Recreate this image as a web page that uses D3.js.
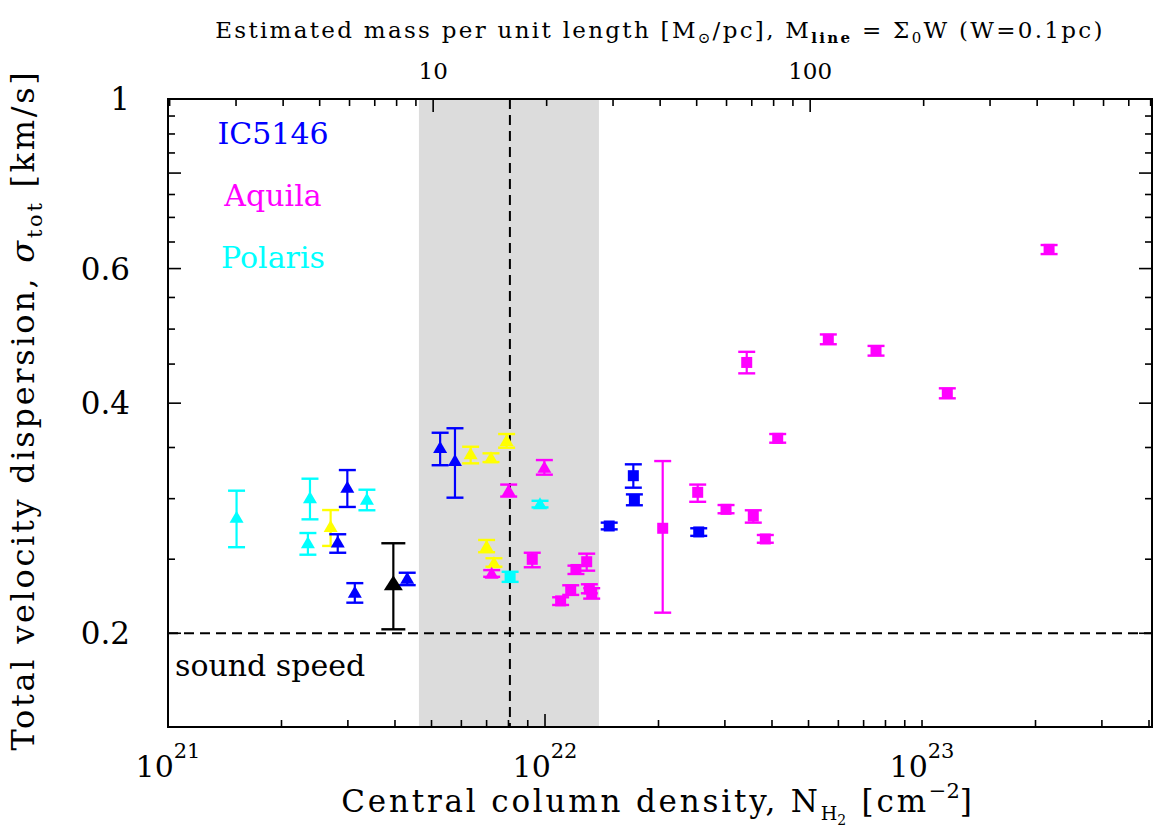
<!DOCTYPE html>
<html>
<head>
<meta charset="utf-8">
<script src="https://cdn.jsdelivr.net/npm/d3@7"></script>
<style>
  body { margin: 0; background: #fff; }
  svg text { font-family: "DejaVu Serif", serif; fill: #000; }
</style>
</head>
<body>
<div id="chart"></div>
<script>
// [column density N_H2 (cm^-2), sigma_tot, lower error, upper error] (km/s)
const ic5146Triangles = [
    [2.82e21, 0.2636, 0.2549, 0.2695],
    [2.99e21, 0.3110, 0.2926, 0.3270],
    [3.13e21, 0.2266, 0.2193, 0.2326],
    [4.31e21, 0.2364, 0.2312, 0.2400],
    [5.27e21, 0.3505, 0.3318, 0.3659],
    [5.77e21, 0.3370, 0.3009, 0.3709]
];
const ic5146Squares = [
    [1.48e22, 0.2763, 0.2735, 0.2791],
    [1.715e22, 0.3215, 0.3101, 0.3327],
    [1.726e22, 0.2990, 0.2941, 0.3039],
    [2.557e22, 0.2714, 0.2682, 0.2744]
];
const aquilaTriangles = [
    [9.96e21, 0.3304, 0.3225, 0.3370],
    [8.01e21, 0.3080, 0.3019, 0.3130],
    [7.22e21, 0.2400, 0.2371, 0.2419]
];
const aquilaSquares = [
    [9.25e21, 0.2499, 0.2440, 0.2549],
    [1.208e22, 0.2424, 0.2391, 0.2452],
    [1.290e22, 0.2481, 0.2415, 0.2542],
    [1.100e22, 0.2205, 0.2178, 0.2229],
    [1.170e22, 0.2279, 0.2245, 0.2311],
    [1.311e22, 0.2286, 0.2256, 0.2318],
    [1.330e22, 0.2256, 0.2220, 0.2291],
    [2.052e22, 0.2744, 0.2128, 0.3360],
    [2.541e22, 0.3058, 0.2972, 0.3130],
    [3.021e22, 0.2905, 0.2871, 0.2943],
    [3.568e22, 0.2847, 0.2791, 0.2897],
    [3.840e22, 0.2657, 0.2627, 0.2689],
    [4.142e22, 0.3598, 0.3551, 0.3645],
    [3.428e22, 0.4522, 0.4376, 0.4669],
    [5.642e22, 0.4849, 0.4777, 0.4920],
    [7.551e22, 0.4686, 0.4616, 0.4753],
    [1.167e23, 0.4121, 0.4059, 0.4183],
    [2.173e23, 0.6358, 0.6268, 0.6441]
];
const polarisTriangles = [
    [1.52e21, 0.2842, 0.2592, 0.3073],
    [2.38e21, 0.3012, 0.2819, 0.3186],
    [2.35e21, 0.2631, 0.2534, 0.2705],
    [3.37e21, 0.2999, 0.2897, 0.3082],
    [9.70e21, 0.2958, 0.2922, 0.2981]
];
const polarisSquares = [
    [8.08e21, 0.2371, 0.2335, 0.2407]
];
const yellowTriangles = [
    [2.70e21, 0.2763, 0.2602, 0.2899],
    [6.35e21, 0.3439, 0.3337, 0.3508],
    [7.19e21, 0.3398, 0.3350, 0.3439],
    [7.91e21, 0.3580, 0.3498, 0.3645],
    [7.00e21, 0.2604, 0.2553, 0.2649],
    [7.32e21, 0.2477, 0.2444, 0.2507]
];
const blackTriangles = [
    [3.96e21, 0.2328, 0.2024, 0.2623]
];

const legendNames = ["IC5146", "Aquila", "Polaris"];
const legendColors = ["#0000ff", "#ff00ff", "#00ffff"];

const soundSpeed = 0.2;
const criticalN = 8.07e21;           // 2 cs^2 / G
const criticalBand = [4.63e21, 1.39e22];
const massPerN = 1.98e-21;           // M_line [Msun/pc] per N_H2 (W = 0.1 pc)

const yMajor = [0.2, 0.4, 0.6, 0.8, 1.0];
const yLabels = [0.2, 0.4, 0.6, 1.0];
const xMajor = [1e21, 1e22, 1e23];
const xLabelExp = ["21", "22", "23"];
const topMajor = [10, 100];

const W = 1153, H = 828;
const margin = {top: 99, right: 1, bottom: 101, left: 168};
const width = W - margin.left - margin.right;
const height = H - margin.top - margin.bottom;

const svg = d3.select("#chart").append("svg")
    .attr("width", W).attr("height", H);

const g = svg.append("g")
    .attr("transform", "translate(" + margin.left + "," + margin.top + ")");

const x = d3.scaleLog().domain([1e21, 4.074e23]).range([0, width]);
const y = d3.scaleLog().domain([0.1508, 1]).range([height, 0]);
const xTop = d3.scaleLog()
    .domain([1e21 * massPerN, 4.074e23 * massPerN]).range([0, width]);

// grey band + critical line
g.append("rect")
    .attr("x", x(criticalBand[0]))
    .attr("width", x(criticalBand[1]) - x(criticalBand[0]))
    .attr("y", 0).attr("height", height)
    .attr("fill", "#dcdcdc");

g.append("line")
    .attr("x1", x(criticalN)).attr("x2", x(criticalN))
    .attr("y1", 0).attr("y2", height)
    .attr("stroke", "#000").attr("stroke-width", 2)
    .attr("stroke-dasharray", "10,6");

g.append("line")
    .attr("x1", 0).attr("x2", width)
    .attr("y1", y(soundSpeed)).attr("y2", y(soundSpeed))
    .attr("stroke", "#000").attr("stroke-width", 2)
    .attr("stroke-dasharray", "10,6");

g.append("text")
    .attr("x", 7).attr("y", y(soundSpeed) + 43)
    .style("font-size", "30px")
    .text("sound speed");

// data points
function drawGroup(data, color, shape, w, h, capW) {
    let grp = g.append("g");
    let pts = grp.selectAll("g.pt").data(data).enter().append("g").attr("class", "pt");

    pts.append("line")
        .attr("x1", d => x(d[0])).attr("x2", d => x(d[0]))
        .attr("y1", d => y(d[2])).attr("y2", d => y(d[3]))
        .attr("stroke", color).attr("stroke-width", 2.2);
    [2, 3].forEach(k => {
        pts.append("line")
            .attr("x1", d => x(d[0]) - capW / 2).attr("x2", d => x(d[0]) + capW / 2)
            .attr("y1", d => y(d[k])).attr("y2", d => y(d[k]))
            .attr("stroke", color).attr("stroke-width", 2.4);
    });

    if (shape === "square") {
        pts.append("rect")
            .attr("x", d => x(d[0]) - w / 2).attr("y", d => y(d[1]) - h / 2)
            .attr("width", w).attr("height", h)
            .attr("fill", color);
    } else {
        pts.append("path")
            .attr("d", d => {
                let cx = x(d[0]), cy = y(d[1]);
                return "M" + cx + "," + (cy - h / 2) +
                    "L" + (cx + w / 2) + "," + (cy + h / 2) +
                    "L" + (cx - w / 2) + "," + (cy + h / 2) + "Z";
            })
            .attr("fill", color);
    }
}

drawGroup(yellowTriangles, "#ffff00", "tri", 14, 12, 17);
drawGroup(polarisTriangles, "#00ffff", "tri", 14, 12, 17);
drawGroup(polarisSquares, "#00ffff", "square", 11, 11, 17);
drawGroup(aquilaTriangles, "#ff00ff", "tri", 14, 12, 17);
drawGroup(aquilaSquares, "#ff00ff", "square", 11, 11, 17);
drawGroup(ic5146Triangles, "#0000ff", "tri", 14, 12, 17);
drawGroup(ic5146Squares, "#0000ff", "square", 11, 11, 17);
drawGroup(blackTriangles, "#000000", "tri", 19, 15, 24);

// legend
g.selectAll("text.legend").data(legendNames).enter().append("text")
    .attr("class", "legend")
    .attr("x", 105)
    .attr("y", (d, i) => 45 + i * 62)
    .attr("text-anchor", "middle")
    .style("font-size", "30px")
    .style("fill", (d, i) => legendColors[i])
    .text(d => d);

// ticks
function minorTicks(lo, hi) {
    let out = [];
    for (let e = Math.floor(Math.log10(lo)); e <= Math.ceil(Math.log10(hi)); e++) {
        for (let m = 1; m < 10; m++) {
            let v = m * Math.pow(10, e);
            if (v >= lo * 0.9999 && v <= hi * 1.0001) out.push(v);
        }
    }
    return out;
}

const ticks = g.append("g").attr("stroke", "#000").attr("stroke-width", 1.6);

// bottom
minorTicks(1e21, 4.074e23).forEach(v => {
    let major = xMajor.includes(v);
    ticks.append("line")
        .attr("x1", x(v)).attr("x2", x(v))
        .attr("y1", height).attr("y2", height - (major ? 13 : 7));
});
// top (mass per unit length)
minorTicks(xTop.domain()[0], xTop.domain()[1]).forEach(v => {
    let major = topMajor.includes(v);
    ticks.append("line")
        .attr("x1", xTop(v)).attr("x2", xTop(v))
        .attr("y1", 0).attr("y2", major ? 13 : 7);
});
// left + right
d3.range(0.2, 1.0001, 0.05).forEach(v => {
    let major = yMajor.some(m => Math.abs(m - v) < 1e-6);
    let len = major ? 13 : 7;
    ticks.append("line")
        .attr("x1", 0).attr("x2", len)
        .attr("y1", y(v)).attr("y2", y(v));
    ticks.append("line")
        .attr("x1", width).attr("x2", width - len)
        .attr("y1", y(v)).attr("y2", y(v));
});

// frame
g.append("rect")
    .attr("x", 0).attr("y", 0).attr("width", width).attr("height", height)
    .attr("fill", "none").attr("stroke", "#000").attr("stroke-width", 2);

// tick labels
g.selectAll("text.ylab").data(yLabels).enter().append("text")
    .attr("x", -38).attr("y", d => y(d))
    .attr("dy", "0.36em")
    .attr("text-anchor", "end")
    .style("font-size", "31px")
    .text(d => d === 1 ? "1" : d.toString());

xMajor.forEach((v, i) => {
    let t = g.append("text")
        .attr("x", x(v)).attr("y", height + 50)
        .attr("text-anchor", "middle")
        .style("font-size", "30px");
    t.append("tspan").text("10");
    t.append("tspan").attr("dy", -19).style("font-size", "21px").text(xLabelExp[i]);
});

topMajor.forEach(v => {
    g.append("text")
        .attr("x", xTop(v)).attr("y", -20)
        .attr("text-anchor", "middle")
        .style("font-size", "23px")
        .text(v);
});

// axis titles
const xt = svg.append("text")
    .attr("x", 658).attr("y", 812)
    .attr("text-anchor", "middle")
    .style("font-size", "31px")
    .style("letter-spacing", "2.8px");
xt.append("tspan").text("Central column density, N");
xt.append("tspan").attr("dy", 8).style("font-size", "19px").style("letter-spacing", "0px").text("H");
xt.append("tspan").attr("dy", 5).style("font-size", "14px").text("2");
xt.append("tspan").attr("dy", -13).text(" [cm");
xt.append("tspan").attr("dy", -14).style("font-size", "21px").style("letter-spacing", "0px").text("−2");
xt.append("tspan").attr("dy", 14).text("]");

const yt = svg.append("text")
    .attr("transform", "translate(34,410) rotate(-90)")
    .attr("text-anchor", "middle")
    .style("font-size", "32px")
    .style("letter-spacing", "2.7px");
yt.append("tspan").text("Total velocity dispersion, ");
yt.append("tspan").style("font-style", "italic").text("σ");
yt.append("tspan").attr("dy", 8).style("font-size", "21px").text("tot");
yt.append("tspan").attr("dy", -8).text(" [km/s]");

const tt = svg.append("text")
    .attr("x", 660).attr("y", 38)
    .attr("text-anchor", "middle")
    .style("font-size", "23px")
    .style("letter-spacing", "2.3px");
tt.append("tspan").text("Estimated mass per unit length  [M");
tt.append("tspan").attr("dy", 5).style("font-size", "15px").text("⊙");
tt.append("tspan").attr("dy", -5).text("/pc], M");
tt.append("tspan").attr("dy", 5).style("font-size", "15px").style("font-weight", "bold").text("line");
tt.append("tspan").attr("dy", -5).text(" = Σ");
tt.append("tspan").attr("dy", 5).style("font-size", "15px").text("0");
tt.append("tspan").attr("dy", -5).text("W (W=0.1pc)");
</script>
</body>
</html>
